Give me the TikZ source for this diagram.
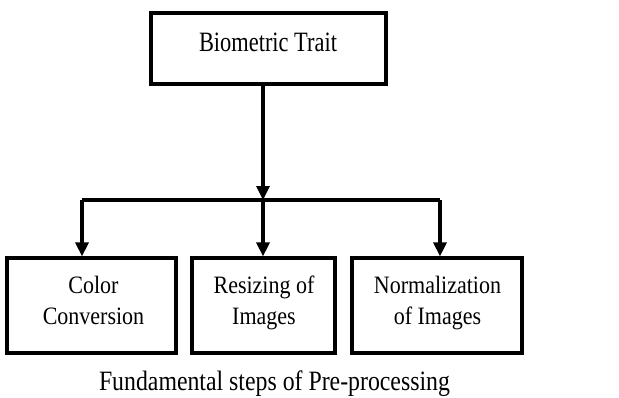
\documentclass[tikz,border=0pt]{standalone}
\usepackage{fontspec}
\setmainfont{Liberation Serif}
% narrow, tall cuts of the serif face for the labels
\newfontfamily\traitfont[FakeStretch=0.8]{Liberation Serif}
\newfontfamily\stepfont[FakeStretch=0.88]{Liberation Serif}
\newfontfamily\capfont[FakeStretch=0.85]{Liberation Serif}
\usetikzlibrary{arrows.meta}
\begin{document}
\begin{tikzpicture}[x=0.5pt,y=-0.5pt,
  box/.style={draw,line width=1.6pt,rectangle,inner sep=0pt},
  txt/.style={align=center,inner sep=0pt,anchor=base},
  link/.style={line width=1.6pt},
  arr/.style={line width=1.6pt,-{Triangle[width=6.5pt,length=7pt]}}]
\useasboundingbox (0,0) rectangle (619,397);

% boxes
\node[box,minimum width=117.5pt,minimum height=35.5pt] (trait) at (268.5,48.5) {};
\node[box,minimum width=84.5pt,minimum height=47.5pt] (color) at (91.5,305.5) {};
\node[box,minimum width=71.5pt,minimum height=47.5pt] (resize) at (263.5,305.5) {};
\node[box,minimum width=85pt,minimum height=47.5pt] (norm) at (437,305.5) {};

% labels (base anchor sits on the last line)
\node[txt,font=\traitfont\fontsize{14}{15}\selectfont] (traitT) at (268,51) {Biometric Trait};
\begin{scope}[every node/.append style={font=\stepfont\fontsize{12.5}{15.5}\selectfont}]
\node[txt] (colorT) at (93.5,324) {Color\\Conversion};
\node[txt] (resizeT) at (264,324) {Resizing of\\Images};
\node[txt] (normT) at (437.5,324) {Normalization\\of Images};
\end{scope}
\node[txt,font=\capfont\fontsize{14}{15}\selectfont] (caption) at (274.5,390) {Fundamental steps of Pre-processing};

% connectors
\coordinate (hub) at (263,200);
\coordinate (lft) at (82,200);
\coordinate (rgt) at (440,200);
\draw[arr] (trait.south -| hub) -- (hub);
\draw[link] (lft) -- (rgt);
\draw[arr] (lft) -- (color.north -| lft);
\draw[arr] (hub) -- (resize.north -| hub);
\draw[arr] (rgt) -- (norm.north -| rgt);
\end{tikzpicture}
\end{document}
